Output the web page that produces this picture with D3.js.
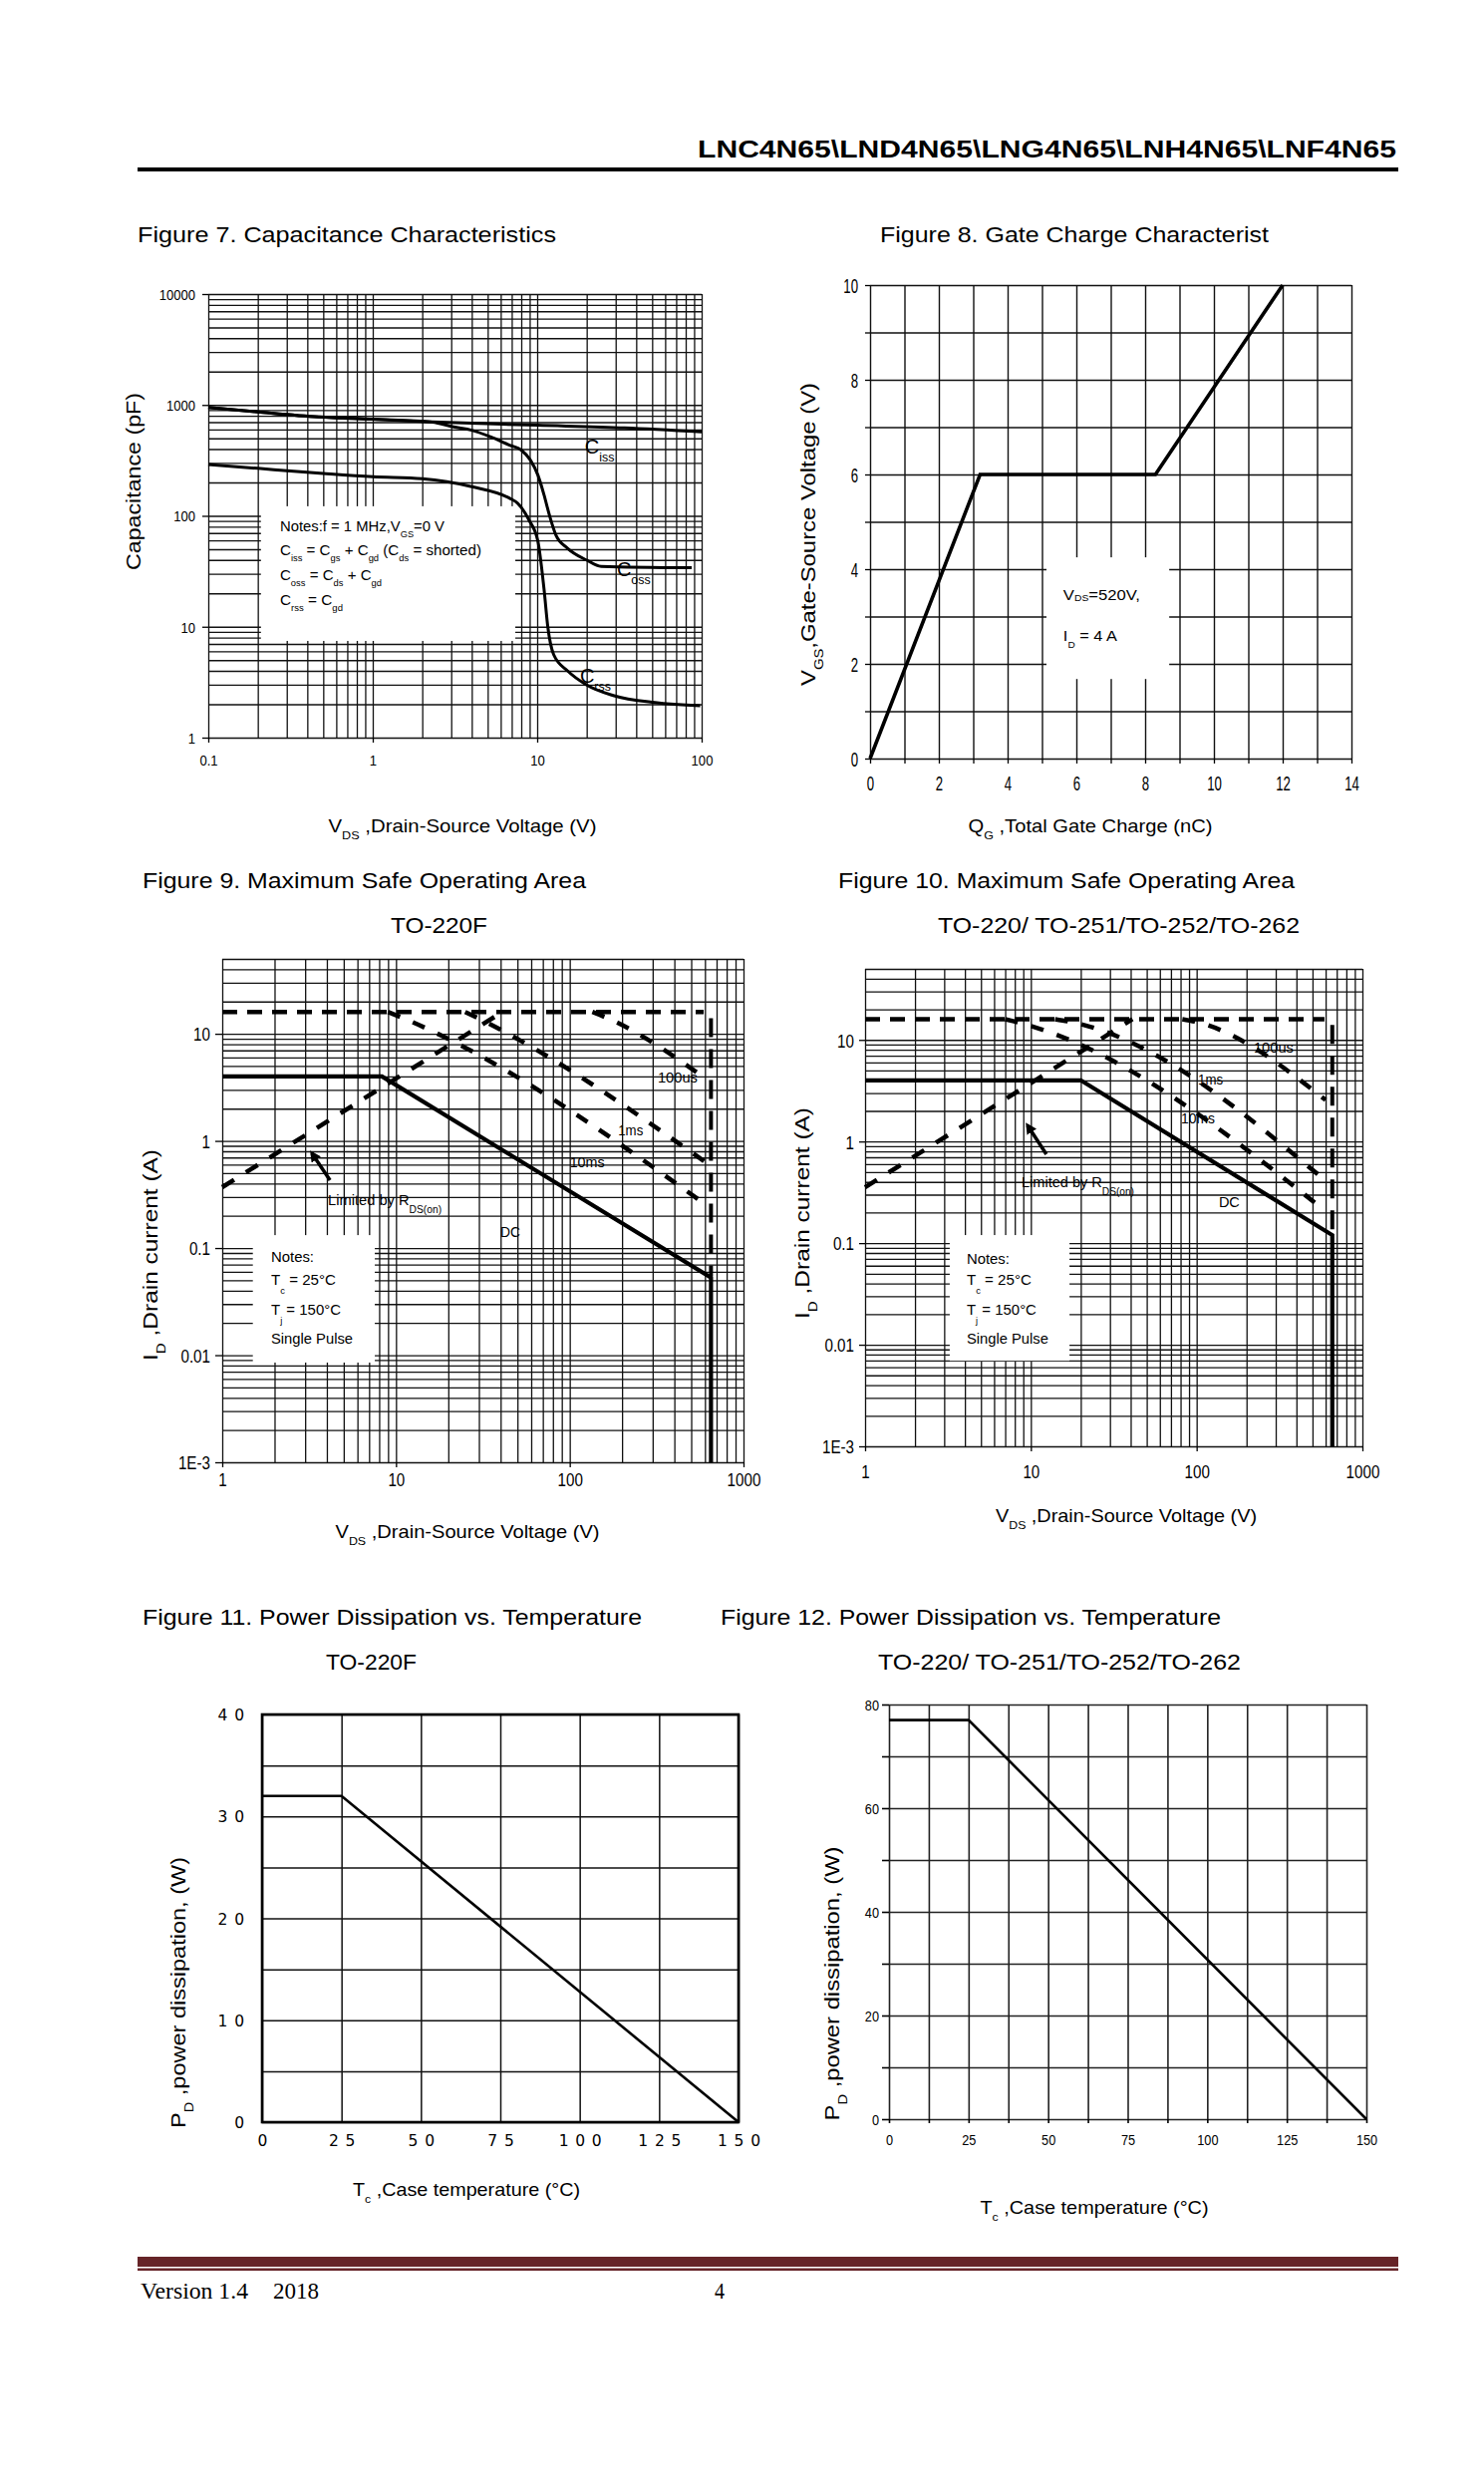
<!DOCTYPE html>
<html><head><meta charset="utf-8">
<script src="https://cdn.jsdelivr.net/npm/d3@7"></script>
<style>
body{margin:0;background:#fff}
svg{display:block}
text{white-space:pre}
</style></head><body>
<svg id="page" width="1489" height="2491"></svg>
<script>
// ================= DATA =================
const headerTitle = "LNC4N65\\LND4N65\\LNG4N65\\LNH4N65\\LNF4N65";
const figTitles = [
  "Figure 7. Capacitance Characteristics",
  "Figure 8. Gate Charge Characterist",
  "Figure 9. Maximum Safe Operating Area",
  "Figure 10. Maximum Safe Operating Area",
  "Figure 11. Power Dissipation vs. Temperature",
  "Figure 12. Power Dissipation vs. Temperature"
];
const pkgTO220F = "TO-220F";
const pkgTO220 = "TO-220/ TO-251/TO-252/TO-262";
const footerVersion = "Version 1.4";
const footerYear = "2018";
const footerPage = "4";

// Figure 7 – capacitance
const capXTicks = [0.1, 1, 10, 100];
const capXLabels = ["0.1", "1", "10", "100"];
const capYTicks = [1, 10, 100, 1000, 10000];
const capYLabels = ["1", "10", "100", "1000", "10000"];
const cissV  = [0.1, 0.2, 0.47, 1, 2.3, 10, 34, 100];
const cissPF = [950, 865, 780, 743, 703, 657, 621, 572];
const cossV  = [0.1, 0.2, 0.47, 1, 2.3, 3.1, 4.0, 5.2, 6.8, 8.0, 9.1, 10.1, 11, 11.9, 13, 15.3, 19.9, 24.5, 87];
const cossPF = [950, 865, 780, 743, 700, 634, 592, 516, 434, 392, 318, 233, 155, 100, 67, 51, 40, 35, 34];
const crssV  = [0.1, 0.2, 0.5, 1, 2, 4, 6.8, 7.6, 8.9, 10.1, 11, 11.6, 12.6, 15.3, 19.9, 29, 52, 98];
const crssPF = [291, 268, 241, 225, 216, 183, 144, 130, 92, 59, 22, 10, 5.6, 4.0, 3.0, 2.4, 2.07, 1.94];

// Figure 8 – gate charge
const qgTicks = [0, 2, 4, 6, 8, 10, 12, 14];
const vgsTicks = [0, 2, 4, 6, 8, 10];
const gateQ = [0, 3.2, 8.3, 12];
const gateV = [0, 6, 6, 10];

// Figures 9/10 – SOA
const soaXTicks = [1, 10, 100, 1000];
const soaXLabels = ["1", "10", "100", "1000"];
const soaYTicks = [0.001, 0.01, 0.1, 1, 10];
const soaYLabels = ["1E-3", "0.01", "0.1", "1", "10"];

const f9LimitV = [1, 41],        f9LimitI = [0.37, 16];
const f9PulseV = [1, 590],       f9PulseI = [16, 16];
const f9BvV    = [650, 650],     f9BvI    = [14, 0.055];
const f9DcV    = [1, 8.3, 650, 650], f9DcI = [4, 4, 0.053, 0.001];
const f9Us100V = [135, 165, 615], f9Us100I = [16, 14, 3.75];
const f9Ms1V   = [25, 31, 615],   f9Ms1I   = [16, 13.5, 0.62];
const f9Ms10V  = [9, 11, 615],    f9Ms10I  = [16, 14, 0.25];

const f10LimitV = [1, 41],        f10LimitI = [0.354, 16];
const f10PulseV = [1, 590],       f10PulseI = [16, 16];
const f10BvV    = [658, 658],     f10BvI    = [14, 0.125];
const f10DcV    = [1, 20, 658, 658], f10DcI = [4, 4, 0.12, 0.001];
const f10Us100V = [82, 100, 600], f10Us100I = [16, 15, 2.56];
const f10Ms1V   = [14, 17.5, 600], f10Ms1I  = [16, 15, 0.41];
const f10Ms10V  = [7, 8.5, 600],  f10Ms10I  = [16, 14.8, 0.206];

// Figures 11/12 – power dissipation
const tcTicks = [0, 25, 50, 75, 100, 125, 150];
const pdTemp = [0, 25, 150];
const pdTO220F = [32, 32, 0];
const pdTO220 = [77, 77, 0];
const pd11YTicks = [0, 10, 20, 30, 40];
const pd12YTicks = [0, 20, 40, 60, 80];

// ================= HELPERS =================
const SANS = "'Liberation Sans', Arial, sans-serif";
const SERIF = "'Liberation Serif', 'Times New Roman', serif";
const svg = d3.select("#page");
svg.append("rect").attr("width", 1489).attr("height", 2491).attr("fill", "#fff");
const defs = svg.append("defs");
defs.append("marker").attr("id", "ah").attr("viewBox", "0 0 10 10").attr("refX", 7).attr("refY", 5)
  .attr("markerWidth", 3.2).attr("markerHeight", 3.2).attr("orient", "auto")
  .append("path").attr("d", "M0,0L10,5L0,10z").attr("fill", "#000");

function rich(parent, parts, o) {
  const holder = o.rotate ? parent.append("g").attr("transform", `translate(${o.x},${o.y}) rotate(-90)`) : parent;
  const t = holder.append("text")
    .attr("x", o.rotate ? 0 : o.x).attr("y", o.rotate ? 0 : o.y)
    .attr("font-size", o.size).attr("font-family", o.family || SANS)
    .attr("font-weight", o.weight || "normal").attr("fill", "#000")
    .attr("text-anchor", o.anchor || "start");
  if (o.len) t.attr("textLength", o.len).attr("lengthAdjust", o.adjust || "spacingAndGlyphs");
  const subSize = o.size * (o.subScale || 0.62), sdy = o.size * (o.subDy || 0.38);
  let low = false;
  const list = typeof parts === "string" ? [[parts]] : parts;
  list.forEach(([s, m]) => {
    const ts = t.append("tspan").text(s);
    if (m === "sub") { ts.attr("font-size", subSize); if (!low) { ts.attr("dy", sdy); low = true; } }
    else if (low) { ts.attr("dy", -sdy); low = false; }
  });
  return t;
}

function gridLines(g, x, y, w, h, xv, yv, o) {
  const gx = g.append("g").attr("transform", `translate(0,${h})`)
    .call(d3.axisBottom(x).tickValues(xv).tickSize(-h).tickFormat(""));
  const gy = g.append("g").call(d3.axisLeft(y).tickValues(yv).tickSize(-w).tickFormat(""));
  [gx, gy].forEach(s => {
    s.select(".domain").remove();
    s.selectAll("line").attr("stroke", o.c).attr("stroke-width", o.w);
  });
}

function axisLabels(g, axis, h, o) {
  const a = g.append("g");
  if (o.bottom) a.attr("transform", `translate(0,${h})`);
  a.call(axis);
  a.select(".domain").remove();
  a.selectAll("line").attr("stroke", "#000").attr("stroke-width", o.tw || 1.3);
  const tx = a.selectAll("text").attr("font-size", o.fs).attr("font-family", o.ff || SANS).attr("fill", "#000");
  if (o.bottom) tx.attr("y", o.off).attr("dy", null);
  else tx.attr("x", -o.off).attr("dy", "0.36em");
  if (o.sx) tx.each(function () {
    const t = d3.select(this);
    t.attr("x", (+t.attr("x") || 0) / o.sx).attr("transform", `scale(${o.sx},1)`);
  });
  if (o.track) tx.each(function () {
    const t = d3.select(this); const n = t.text().length;
    if (n > 1) t.attr("textLength", o.dw * n + o.track * (n - 1)).attr("lengthAdjust", "spacing");
  });
  return a;
}

function title(txt, x, y, len, anchor) {
  rich(svg, txt, { x, y, size: 22, len, anchor: anchor || "start" });
}

// ================= PAGE HEADER / FOOTER =================
rich(svg, headerTitle, { x: 700, y: 158, size: 23, weight: "bold", len: 701 });
svg.append("rect").attr("x", 138).attr("y", 168).attr("width", 1265).attr("height", 4).attr("fill", "#000");

svg.append("rect").attr("x", 138).attr("y", 2264).attr("width", 1265).attr("height", 10).attr("fill", "#662428");
svg.append("rect").attr("x", 138).attr("y", 2275.5).attr("width", 1265).attr("height", 2.5).attr("fill", "#662428");
rich(svg, footerVersion, { x: 141, y: 2306, size: 24, family: SERIF, len: 108 });
rich(svg, footerYear, { x: 274, y: 2306, size: 24, family: SERIF, len: 46 });
rich(svg, footerPage, { x: 722, y: 2306, size: 24, family: SERIF, anchor: "middle", len: 10 });

// ================= TITLES =================
title(figTitles[0], 138, 243, 420);
title(figTitles[1], 883, 243, 390);
title(figTitles[2], 143, 891, 445);
title(figTitles[3], 841, 891, 458);
title(pkgTO220F, 392, 936, 97);
title(pkgTO220, 941, 936, 363);
title(figTitles[4], 143, 1630, 501);
title(figTitles[5], 723, 1630, 502);
title(pkgTO220F, 327, 1675, 91);
title(pkgTO220, 881, 1675, 364);

// ================= FIGURE 7 =================
{
  const L = 209, T = 295, W = 704 - 209, H = 740 - 295;
  const g = svg.append("g").attr("transform", `translate(${L},${T})`);
  const x = d3.scaleLog().domain([0.1, 100]).range([0, W]);
  const y = d3.scaleLog().domain([1, 10000]).range([H, 0]);
  gridLines(g, x, y, W, H, x.ticks(), y.ticks(), { c: "#111", w: 1.3 });
  axisLabels(g, d3.axisLeft(y).tickValues(capYTicks).tickFormat((d, i) => capYLabels[i]).tickSize(6), H, { fs: 15, off: 13, sx: 0.87 });
  axisLabels(g, d3.axisBottom(x).tickValues(capXTicks).tickFormat((d, i) => capXLabels[i]).tickSize(5), H, { bottom: true, fs: 15, off: 28, sx: 0.87 });
  // notes box
  g.append("rect").attr("x", x(0.209)).attr("y", y(122)).attr("width", x(7.36) - x(0.209))
    .attr("height", y(7.45) - y(122)).attr("fill", "#fff");
  const nx = x(0.273), ns = 15;
  rich(g, [["Notes:f = 1 MHz,V"], ["GS", "sub"], ["=0 V"]], { x: nx, y: y(72.6), size: ns, len: 165 });
  rich(g, [["C"], ["iss", "sub"], [" = C"], ["gs", "sub"], [" + C"], ["gd", "sub"], [" (C"], ["ds", "sub"], [" = shorted)"]], { x: nx, y: y(44.2), size: ns, len: 202 });
  rich(g, [["C"], ["oss", "sub"], [" = C"], ["ds", "sub"], [" + C"], ["gd", "sub"]], { x: nx, y: y(26.3), size: ns, len: 102 });
  rich(g, [["C"], ["rss", "sub"], [" = C"], ["gd", "sub"]], { x: nx, y: y(15.7), size: ns, len: 63 });
  const line = d3.line().x(d => x(d[0])).y(d => y(d[1])).curve(d3.curveMonotoneX);
  [[cissV, cissPF], [cossV, cossPF], [crssV, crssPF]].forEach(([v, c]) => {
    g.append("path").attr("d", line(d3.zip(v, c))).attr("fill", "none").attr("stroke", "#000").attr("stroke-width", 3);
  });
  rich(g, [["C"], ["iss", "sub"]], { x: x(19.5), y: y(365), size: 20, subDy: 0.4 });
  rich(g, [["C"], ["oss", "sub"]], { x: x(30.5), y: y(28.6), size: 20, subDy: 0.4 });
  rich(g, [["C"], ["rss", "sub"]], { x: x(18.2), y: y(3.12), size: 20, subDy: 0.4 });
  rich(svg, "Capacitance (pF)", { x: 141, y: 483, size: 20, rotate: true, anchor: "middle", len: 178 });
  rich(svg, [["V"], ["DS", "sub"], [" ,Drain-Source Voltage (V)"]], { x: 464, y: 835, size: 19, anchor: "middle", len: 269 });
}

// ================= FIGURE 8 =================
{
  const L = 873, T = 286, W = 1356 - 873, H = 761 - 286;
  const g = svg.append("g").attr("transform", `translate(${L},${T})`);
  const x = d3.scaleLinear().domain([0, 14]).range([0, W]);
  const y = d3.scaleLinear().domain([0, 10]).range([H, 0]);
  gridLines(g, x, y, W, H, d3.range(0, 15), d3.range(0, 11), { c: "#111", w: 1.4 });
  axisLabels(g, d3.axisLeft(y).tickValues(d3.range(0, 11)).tickFormat(d => vgsTicks.includes(d) ? String(d) : "").tickSize(5), H, { fs: 20, off: 12, sx: 0.66 });
  axisLabels(g, d3.axisBottom(x).tickValues(d3.range(0, 15)).tickFormat(d => qgTicks.includes(d) ? String(d) : "").tickSize(5), H, { bottom: true, fs: 20, off: 32, sx: 0.66 });
  g.append("rect").attr("x", x(5.13)).attr("y", y(4.25)).attr("width", x(8.7) - x(5.13))
    .attr("height", y(1.68) - y(4.25)).attr("fill", "#fff");
  rich(g, [["V"], ["DS", "sub"], ["=520V,"]], { x: x(5.62), y: y(3.35), size: 15, subDy: 0.1, len: 77 });
  rich(g, [["I"], ["D", "sub"], [" = 4 A"]], { x: x(5.62), y: y(2.48), size: 15, subDy: 0.45, len: 54 });
  const line = d3.line().x(d => x(d[0])).y(d => y(d[1]));
  g.append("path").attr("d", line(d3.zip(gateQ, gateV))).attr("fill", "none").attr("stroke", "#000")
    .attr("stroke-width", 3.6).attr("stroke-linejoin", "miter");
  rich(svg, [["V"], ["GS", "sub"], [",Gate-Source Voltage (V)"]], { x: 818, y: 536, size: 21, rotate: true, anchor: "middle", len: 304 });
  rich(svg, [["Q"], ["G", "sub"], [" ,Total Gate Charge (nC)"]], { x: 1094, y: 835, size: 19, anchor: "middle", len: 245 });
}

// ================= SOA builder =================
function soaChart(o, s) {
  const g = svg.append("g").attr("transform", `translate(${o.L},${o.T})`);
  const W = o.R - o.L, H = o.B - o.T;
  const x = d3.scaleLog().domain([1, 1000]).range([0, W]);
  const y = d3.scaleLog().domain([0.001, 50]).range([H, 0]);
  gridLines(g, x, y, W, H, x.ticks(), y.ticks(), { c: "#111", w: 1.3 });
  axisLabels(g, d3.axisLeft(y).tickValues(soaYTicks).tickFormat((d, i) => soaYLabels[i]).tickSize(o.ltick), H, { fs: 19, off: o.yoff, sx: 0.8 });
  axisLabels(g, d3.axisBottom(x).tickValues(soaXTicks).tickFormat((d, i) => soaXLabels[i]).tickSize(5), H, { bottom: true, fs: 19, off: o.xoff, sx: 0.8 });
  // notes box
  g.append("rect").attr("x", x(o.box[0])).attr("y", y(o.box[2])).attr("width", x(o.box[1]) - x(o.box[0]))
    .attr("height", y(o.box[3]) - y(o.box[2])).attr("fill", "#fff");
  const nx = x(o.nx);
  rich(g, "Notes:", { x: nx, y: y(o.ny[0]), size: 15, len: 43 });
  rich(g, [["T"], ["c", "sub"], [" = 25°C"]], { x: nx, y: y(o.ny[1]), size: 15, subDy: 0.6, len: 65 });
  rich(g, [["T"], ["j", "sub"], [" = 150°C"]], { x: nx, y: y(o.ny[2]), size: 15, subDy: 0.6, len: 70 });
  rich(g, "Single Pulse", { x: nx, y: y(o.ny[3]), size: 15, len: 82 });

  const lin = d3.line().x(d => x(d[0])).y(d => y(d[1]));
  const smooth = d3.line().x(d => x(d[0])).y(d => y(d[1])).curve(d3.curveMonotoneX);
  const dashed = (v, i, gen, da) => g.append("path").attr("d", (gen || lin)(d3.zip(v, i))).attr("fill", "none")
    .attr("stroke", "#000").attr("stroke-width", 4.5).attr("stroke-dasharray", da);
  dashed(s.pulseV, s.pulseI, lin, "15,10");
  dashed(s.limitV, s.limitI, lin, "14,14");
  dashed(s.us100V, s.us100I, smooth, "13,14");
  dashed(s.ms1V, s.ms1I, smooth, "13,14");
  dashed(s.ms10V, s.ms10I, smooth, "13,14");
  g.append("path").attr("d", lin(d3.zip(s.bvV, s.bvI))).attr("fill", "none").attr("stroke", "#000")
    .attr("stroke-width", 4).attr("stroke-dasharray", "19,12");
  g.append("path").attr("d", lin(d3.zip(s.dcV, s.dcI))).attr("fill", "none").attr("stroke", "#000")
    .attr("stroke-width", 4.2).attr("stroke-linejoin", "miter");
  // arrow
  g.append("line").attr("x1", x(o.arrow[0])).attr("y1", y(o.arrow[1])).attr("x2", x(o.arrow[2])).attr("y2", y(o.arrow[3]))
    .attr("stroke", "#000").attr("stroke-width", 3.5).attr("marker-end", "url(#ah)");
  // labels
  o.labels.forEach(l => rich(g, l.t, { x: x(l.x), y: y(l.y), size: 15, len: l.len }));
  rich(g, [["Limited by R"], ["DS(on)", "sub"]], { x: x(o.lim[0]), y: y(o.lim[1]), size: 15, subScale: 0.7, subDy: 0.55, len: o.lim[2] });
  return g;
}

// ================= FIGURE 9 =================
soaChart({
  L: 223, T: 962, R: 746, B: 1467, ltick: 7, yoff: 12, xoff: 24,
  box: [1.5, 7.55, 0.132, 0.00853], nx: 1.91, ny: [0.0743, 0.0454, 0.0239, 0.0128],
  arrow: [4.17, 0.43, 3.28, 0.767],
  labels: [{ t: "100us", x: 321, y: 3.51, len: 40 }, { t: "1ms", x: 190, y: 1.12, len: 25 },
           { t: "10ms", x: 100, y: 0.567, len: 35 }, { t: "DC", x: 39.9, y: 0.126, len: 20 }],
  lim: [4.06, 0.252, 114]
}, {
  pulseV: f9PulseV, pulseI: f9PulseI, limitV: f9LimitV, limitI: f9LimitI, bvV: f9BvV, bvI: f9BvI,
  dcV: f9DcV, dcI: f9DcI, us100V: f9Us100V, us100I: f9Us100I, ms1V: f9Ms1V, ms1I: f9Ms1I, ms10V: f9Ms10V, ms10I: f9Ms10I
});
rich(svg, [["I"], ["D", "sub"], [" ,Drain current (A)"]], { x: 158, y: 1259, size: 21, rotate: true, anchor: "middle", len: 212 });
rich(svg, [["V"], ["DS", "sub"], [" ,Drain-Source Voltage (V)"]], { x: 469, y: 1543, size: 19, anchor: "middle", len: 265 });

// ================= FIGURE 10 =================
soaChart({
  L: 868, T: 972, R: 1367, B: 1451, ltick: 6, yoff: 11, xoff: 32,
  box: [3.24, 17.1, 0.12, 0.00695], nx: 4.1, ny: [0.0619, 0.0386, 0.0196, 0.0102],
  arrow: [12.4, 0.748, 9.55, 1.44],
  labels: [{ t: "100us", x: 221, y: 7.48, len: 40 }, { t: "1ms", x: 102, y: 3.63, len: 25 },
           { t: "10ms", x: 80.5, y: 1.51, len: 34 }, { t: "DC", x: 136, y: 0.225, len: 21 }],
  lim: [8.79, 0.354, 113]
}, {
  pulseV: f10PulseV, pulseI: f10PulseI, limitV: f10LimitV, limitI: f10LimitI, bvV: f10BvV, bvI: f10BvI,
  dcV: f10DcV, dcI: f10DcI, us100V: f10Us100V, us100I: f10Us100I, ms1V: f10Ms1V, ms1I: f10Ms1I, ms10V: f10Ms10V, ms10I: f10Ms10I
});
rich(svg, [["I"], ["D", "sub"], [" ,Drain current (A)"]], { x: 812, y: 1217, size: 21, rotate: true, anchor: "middle", len: 212 });
rich(svg, [["V"], ["DS", "sub"], [" ,Drain-Source Voltage (V)"]], { x: 1130, y: 1527, size: 19, anchor: "middle", len: 262 });

// ================= FIGURE 11 =================
{
  const L = 263, T = 1720, W = 741 - 263, H = 2129 - 1720;
  const g = svg.append("g").attr("transform", `translate(${L},${T})`);
  const x = d3.scaleLinear().domain([0, 150]).range([0, W]);
  const y = d3.scaleLinear().domain([0, 40]).range([H, 0]);
  gridLines(g, x, y, W, H, tcTicks, d3.range(0, 41, 5), { c: "#111", w: 1.5 });
  g.append("rect").attr("width", W).attr("height", H).attr("fill", "none").attr("stroke", "#000").attr("stroke-width", 2.6);
  axisLabels(g, d3.axisLeft(y).tickValues(pd11YTicks).tickSize(0), H, { fs: 15.5, off: 18, ff: "'DejaVu Sans', Verdana, sans-serif", dw: 10, track: 6.5 });
  axisLabels(g, d3.axisBottom(x).tickValues(tcTicks).tickSize(0), H, { bottom: true, fs: 15.5, off: 24, ff: "'DejaVu Sans', Verdana, sans-serif", dw: 10, track: 6.5 });
  const line = d3.line().x(d => x(d[0])).y(d => y(d[1]));
  g.append("path").attr("d", line(d3.zip(pdTemp, pdTO220F))).attr("fill", "none").attr("stroke", "#000").attr("stroke-width", 2.6);
  rich(svg, [["P"], ["D", "sub"], [" ,power dissipation, (W)"]], { x: 186, y: 1999, size: 21, rotate: true, anchor: "middle", len: 272 });
  rich(svg, [["T"], ["c", "sub"], [" ,Case temperature (°C)"]], { x: 468, y: 2203, size: 19, anchor: "middle", len: 228 });
}

// ================= FIGURE 12 =================
{
  const L = 892, T = 1710, W = 1371 - 892, H = 2126 - 1710;
  const g = svg.append("g").attr("transform", `translate(${L},${T})`);
  const x = d3.scaleLinear().domain([0, 150]).range([0, W]);
  const y = d3.scaleLinear().domain([0, 80]).range([H, 0]);
  const xg = d3.range(0, 151, 12.5), yg = d3.range(0, 81, 10);
  gridLines(g, x, y, W, H, xg, yg, { c: "#222", w: 1.6 });
  axisLabels(g, d3.axisLeft(y).tickValues(yg).tickFormat(d => pd12YTicks.includes(d) ? String(d) : "").tickSize(7), H, { fs: 15, off: 10, sx: 0.85, tw: 1.6 });
  axisLabels(g, d3.axisBottom(x).tickValues(xg).tickFormat(d => tcTicks.includes(d) ? String(d) : "").tickSize(4), H, { bottom: true, fs: 15, off: 26, sx: 0.85, tw: 1.6 });
  const line = d3.line().x(d => x(d[0])).y(d => y(d[1]));
  g.append("path").attr("d", line(d3.zip(pdTemp, pdTO220))).attr("fill", "none").attr("stroke", "#000").attr("stroke-width", 2.6);
  rich(svg, [["P"], ["D", "sub"], [" ,power dissipation, (W)"]], { x: 842, y: 1990, size: 21, rotate: true, anchor: "middle", len: 275 });
  rich(svg, [["T"], ["c", "sub"], [" ,Case temperature (°C)"]], { x: 1098, y: 2221, size: 19, anchor: "middle", len: 229 });
}
</script>
</body></html>
